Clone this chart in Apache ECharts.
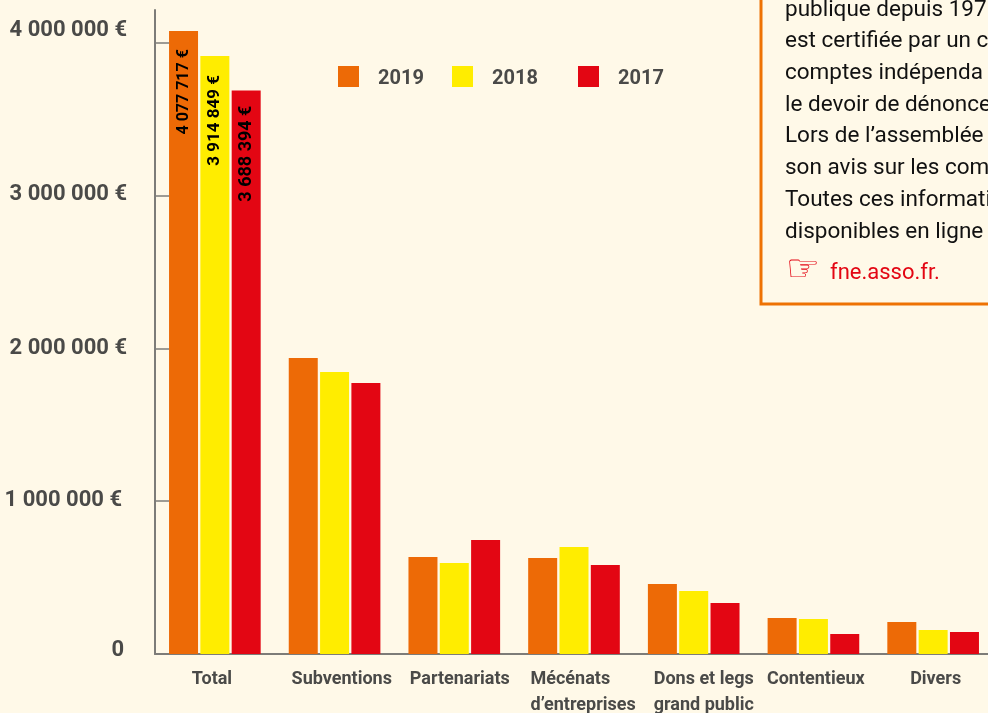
<!DOCTYPE html>
<html>
<head>
<meta charset="utf-8">
<script src="https://cdn.jsdelivr.net/npm/echarts@6/dist/echarts.min.js"></script>
<style type="text/css">
	html, body { margin: 0; padding: 0; background: #fff9e8; }
	#main { width: 988px; height: 713px; }
</style>
</head>
<body>
<div id="main"></div>
<script type="text/javascript">
var categories = ['Total', 'Subventions', 'Partenariats', 'Mécénats\nd’entreprises', 'Dons et legs\ngrand public', 'Contentieux', 'Divers'];
var years = ['2019', '2018', '2017'];
var values2019 = [4077717, 1938000, 635000, 628000, 458000, 236000, 210000];
var values2018 = [3914849, 1846000, 596000, 700000, 412000, 229000, 157000];
var values2017 = [3688394, 1774000, 746000, 583000, 334000, 131000, 144000];
var tickValues = [0, 1000000, 2000000, 3000000, 4000000];
var tickLabels = ['0', '1 000 000 €', '2 000 000 €', '3 000 000 €', '4 000 000 €'];
var boxLines = ['publique depuis 197', 'est certifiée par un c', 'comptes indépenda', 'le devoir de dénonce', 'Lors de l’assemblée', 'son avis sur les com', 'Toutes ces informati', 'disponibles en ligne'];

var narrow = 'Roboto, sans-serif';
var greyText = '#4a4a48';
var axisGrey = '#7d7c78';
var colors = ['#ed6a06', '#ffed00', '#e30613'];

// decalage des libelles par rapport au centre de chaque groupe
var labelShift = [-3, 7, 5, 9, 9, 3, 2];
var labelWidth = [40, 100, 99, 105, 98, 99, 50];
var richLabels = {};
categories.forEach(function (c, i) {
	var s = labelShift[i];
	richLabels['c' + i] = {
		width: labelWidth[i], align: 'left', lineHeight: 26,
		fontFamily: narrow, fontWeight: 'bold', fontSize: 18, color: greyText,
		padding: s > 0 ? [0, 0, 0, 2 * s] : [0, -2 * s, 0, 0]
	};
});

// les libelles de l'axe y ne sont pas tous centres sur leur tick
var tickUp = [4, 1, 0, 1, 12];
var tickRight = [3, 5, 0, 0, 0];
var richTicks = {};
tickValues.forEach(function (v, i) {
	richTicks['t' + i] = {
		fontFamily: narrow, fontWeight: 'bold', fontSize: 22, color: greyText,
		padding: [0, tickRight[i], 2 * tickUp[i], 0]
	};
});

function euros(v) {
	return String(v).replace(/\B(?=(\d{3})+$)/g, ' ') + ' €';
}

function barData(values, offset, dist, size) {
	return values.map(function (v, i) {
		if (i > 0) return v;
		return {
			value: v,
			label: {
				show: true, position: 'insideTop', rotate: 90, distance: dist,
				align: 'right', verticalAlign: 'middle', offset: [offset, 0],
				fontFamily: narrow, fontWeight: 'bold', fontSize: size, color: '#000',
				formatter: function (p) { return euros(p.value); }
			}
		};
	});
}

var boxGraphics = [{
	type: 'rect', shape: { x: 761, y: -10, width: 300, height: 314 },
	style: { fill: 'none', stroke: '#ee7203', lineWidth: 3 }
}];
boxLines.forEach(function (t, i) {
	boxGraphics.push({
		type: 'text', x: 785, y: 10 + i * 31.7,
		style: { text: t, font: '22.5px ' + narrow, fill: '#111', textVerticalAlign: 'middle' }
	});
});
boxGraphics.push({
	type: 'text', x: 786, y: 271,
	style: { text: '☞', font: '38px "DejaVu Sans"', fill: '#e30613', textVerticalAlign: 'middle' }
});
boxGraphics.push({
	type: 'text', x: 830, y: 273,
	style: { text: 'fne.asso.fr.', font: '22px ' + narrow, fill: '#e30613', textVerticalAlign: 'middle' }
});

var legendLeft = [338, 452, 578];

var option = {
	backgroundColor: '#fff9e8',
	animation: false,
	color: colors,
	grid: { left: 155, top: 10, width: 838, height: 644, outerBoundsMode: 'none' },
	legend: years.map(function (y, i) {
		return {
			left: legendLeft[i], top: 66, data: [{ name: y, icon: 'rect' }],
			padding: 0,
			itemWidth: 21, itemHeight: 21,
			formatter: '{y|{name}}',
			textStyle: {
				padding: [0, 0, 0, 14],
				rich: { y: { fontFamily: narrow, fontWeight: 'bold', fontSize: 20, color: greyText, padding: [4, 0, 0, 0] } }
			}
		};
	}),
	xAxis: {
		type: 'category',
		data: categories,
		axisLine: { lineStyle: { color: axisGrey, width: 2 } },
		axisTick: { inside: true, length: 20, lineStyle: { color: axisGrey, width: 1.5 } },
		axisLabel: {
			interval: 0, margin: 12,
			formatter: function (v) {
				var i = categories.indexOf(v);
				return v.split('\n').map(function (l) { return '{c' + i + '|' + l + '}'; }).join('\n');
			},
			rich: richLabels
		}
	},
	yAxis: {
		type: 'value',
		min: 0,
		max: 4216000,
		axisLine: { show: true, lineStyle: { color: axisGrey, width: 2 } },
		splitLine: { show: false },
		axisTick: { show: true, inside: true, length: 14, customValues: tickValues, lineStyle: { color: axisGrey, width: 1.5 } },
		axisLabel: {
			customValues: tickValues,
			margin: 28,
			formatter: function (v) {
				var i = tickValues.indexOf(v);
				return '{t' + i + '|' + tickLabels[i] + '}';
			},
			rich: richTicks
		}
	},
	series: [
		{ name: years[0], type: 'bar', barWidth: 29, barGap: '8%', data: barData(values2019, -2, 16, 16) },
		{ name: years[1], type: 'bar', barWidth: 29, barGap: '8%', data: barData(values2018, 0, 19, 17) },
		{ name: years[2], type: 'bar', barWidth: 29, barGap: '8%', data: barData(values2017, 1, 16, 18) }
	],
	graphic: boxGraphics
};

var myChart = echarts.init(document.getElementById('main'));
myChart.setOption(option);
</script>
</body>
</html>
